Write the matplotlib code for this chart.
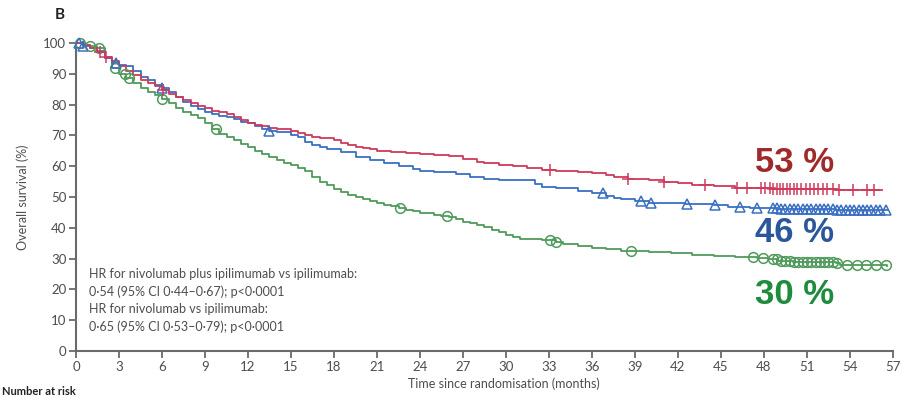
import numpy as np
import matplotlib
matplotlib.use("Agg")
import matplotlib.pyplot as plt

# ---------------- data ----------------
months_ticks = list(range(0, 58, 3))
pct_ticks = list(range(0, 101, 10))

# Nivolumab plus ipilimumab (red)
combo_t = [0, 0.5, 1.0, 1.5, 2.0, 2.5, 3.0, 3.5, 4.0, 4.5, 5.0, 5.5, 6.0, 6.5, 7.0, 7.5,
           8.0, 8.5, 9.0, 9.5, 10.0, 10.5, 11.0, 11.5, 12.0, 12.5, 13.0, 13.5, 14.0, 15.0,
           15.5, 16.0, 16.5, 17.0, 18.0, 18.5, 19.0, 19.5, 20.0, 20.5, 21.0, 22.0, 23.0,
           24.0, 25.0, 26.0, 27.0, 28.0, 28.5, 29.5, 30.5, 31.5, 32.5, 33.5, 35.0, 36.0,
           37.0, 37.5, 38.5, 40.0, 41.0, 42.0, 43.0, 44.5, 46.0, 47.0, 48.5, 53.0, 56.2]
combo_s = [100, 99.5, 98.5, 97, 95.5, 94, 92.5, 91, 89.5, 88, 87, 86, 84.8, 83.5, 82.5, 81.5,
           80.5, 79.5, 79, 78, 77.5, 77, 76, 75, 74, 73.5, 73, 72.5, 72, 71.5,
           70.8, 70, 69.5, 69, 68.5, 67.5, 67, 66.3, 66, 65.5, 65, 64.6, 64.2,
           63.8, 63.5, 63.2, 62.5, 61.5, 61, 60.5, 60, 59.5, 58.8, 58.4, 58, 57.8,
           57, 56.5, 55.8, 55.5, 55, 54.5, 53.8, 53.6, 53, 52.8, 52.5, 52.3, 52.3]
combo_cens = [1.7, 2.1, 6.1, 33.1, 38.5, 41.0, 43.9, 46.1, 46.8, 47.8, 48.1, 48.4, 48.6,
              48.9, 49.1, 49.3, 49.6, 49.8, 50.1, 50.3, 50.6, 50.9, 51.2, 51.5, 51.8,
              52.1, 52.4, 52.8, 53.2, 54.2, 55.2, 55.7]

# Nivolumab (blue)
nivo_t = [0, 0.5, 1.0, 1.5, 2.0, 2.5, 3.0, 3.5, 4.0, 4.5, 5.0, 5.5, 6.0, 6.5, 7.0, 7.5,
          8.0, 8.5, 9.0, 9.5, 10.0, 10.5, 11.0, 11.5, 12.0, 12.5, 13.0, 13.5, 14.0, 15.0,
          15.5, 16.0, 16.5, 17.0, 17.5, 18.5, 19.5, 20.5, 21.5, 22.5, 23.5, 24.0, 25.0,
          26.5, 27.5, 28.5, 29.5, 31.5, 32.0, 32.5, 33.5, 35.0, 36.0, 37.0, 37.5, 38.0,
          39.0, 40.0, 42.5, 44.5, 45.5, 47.0, 49.0, 53.0, 56.6]
nivo_s = [100, 99, 98.5, 97.5, 95, 93.5, 93, 92.5, 91, 89, 88, 86.5, 85.5, 84, 82.5, 81,
          79.5, 78.5, 77.5, 76.8, 76.3, 76, 75.2, 74.5, 74, 73, 72, 71.5, 71, 70,
          69.5, 68, 67, 66.2, 65.5, 64.5, 63, 62, 61, 60, 59, 58.5, 58.2,
          57.5, 56.5, 55.8, 55.5, 55.4, 54.2, 53.2, 52.8, 52, 51.3, 50.3, 49.8, 49.4,
          48.6, 48.1, 47.7, 47.4, 46.8, 46.4, 46.0, 45.8, 45.8]
nivo_cens = [0.2, 0.5, 2.8, 6.0, 13.5, 36.8, 39.4, 40.1, 42.6, 44.6, 46.3, 47.5, 48.6,
             48.9, 49.2, 49.5, 49.8, 50.1, 50.4, 50.7, 51.0, 51.3, 51.6, 51.9, 52.2,
             52.5, 52.8, 53.1, 53.4, 53.7, 54.0, 54.3, 54.6, 54.9, 55.2, 55.5, 55.8,
             56.1, 56.5]

# Ipilimumab (green)
ipi_t = [0, 0.5, 1.0, 1.5, 2.0, 2.5, 3.0, 3.5, 4.0, 4.5, 5.0, 5.5, 6.0, 6.5, 7.0, 7.5,
         8.0, 8.5, 9.0, 9.5, 10.0, 10.5, 11.0, 11.5, 12.0, 12.5, 13.0, 13.5, 14.0, 14.5,
         15.0, 15.5, 16.0, 16.5, 17.0, 17.5, 18.0, 18.5, 19.0, 19.5, 20.0, 20.5, 21.0,
         21.5, 22.0, 22.5, 23.0, 23.5, 24.0, 25.0, 25.5, 26.0, 26.5, 27.0, 27.5, 28.0,
         28.5, 29.0, 29.5, 30.0, 30.5, 31.0, 32.5, 33.5, 34.0, 35.0, 36.0, 37.0, 38.0,
         40.0, 41.5, 43.0, 44.5, 46.0, 47.5, 48.3, 49.0, 50.0, 53.0, 53.3, 56.6]
ipi_s = [100, 99.5, 99, 98.5, 95, 92, 90, 88.5, 87, 85.5, 84, 83, 81.8, 80.5, 79, 77.5,
         76.5, 75.5, 74, 72, 70.5, 69.5, 68.5, 67.2, 66.2, 65, 64, 63, 62, 61,
         60.3, 59.5, 58.3, 56.5, 55, 53.8, 52.5, 51.5, 50.5, 50, 49.5, 48.8, 48.2,
         47.5, 47, 46.3, 45.8, 45.3, 44.8, 44.3, 43.8, 43.4, 42.8, 42, 41.4, 40.9,
         40.2, 39.4, 38.5, 37.7, 37, 36.5, 36.1, 35.5, 34.7, 34, 33.5, 33, 32.5,
         32.1, 31.7, 31.3, 30.8, 30.5, 30.3, 29.8, 29.2, 29.0, 28.7, 27.8, 27.6]
ipi_cens = [0.3, 1.0, 1.6, 2.7, 3.4, 3.7, 6.0, 9.8, 22.6, 25.9, 33.1, 33.5, 38.7, 47.2,
            47.9, 48.6, 48.9, 49.2, 49.5, 49.8, 50.1, 50.4, 50.7, 51.0, 51.3, 51.6,
            51.9, 52.2, 52.5, 52.8, 53.1, 53.8, 54.5, 55.1, 55.8, 56.5]

labels_pct = ["53 %", "46 %", "30 %"]

hr_text = ("HR for nivolumab plus ipilimumab vs ipilimumab:\n"
           "0·54 (95% CI 0·44–0·67); p<0·0001\n"
           "HR for nivolumab vs ipilimumab:\n"
           "0·65 (95% CI 0·53–0·79); p<0·0001")

# ---------------- styling ----------------
RED = "#cf3a5c"
BLUE = "#3a70c2"
GREEN = "#4f9a5c"
GREY = "#4d4d4d"
FONT = ["Lato", "DejaVu Sans"]

plt.rcParams["font.family"] = FONT

fig = plt.figure(figsize=(9.12, 3.98), dpi=100)
ax = fig.add_axes([76 / 912, 1 - 351 / 398, (893 - 76) / 912, (351 - 43) / 398])


def step_lookup(t, s, x):
    idx = np.searchsorted(np.asarray(t), np.asarray(x), side="right") - 1
    return np.asarray(s)[np.clip(idx, 0, len(s) - 1)]


series = [
    (ipi_t, ipi_s, ipi_cens, GREEN, "o", 7.0),
    (nivo_t, nivo_s, nivo_cens, BLUE, "^", 7.5),
    (combo_t, combo_s, combo_cens, RED, "+", 8.5),
]
for t, s, cens, col, mk, ms in series:
    ax.step(t, s, where="post", color=col, lw=1.3, clip_on=False, zorder=3)
    ax.plot(cens, step_lookup(t, s, cens), linestyle="none", marker=mk, ms=ms,
            mfc="none", mec=col, mew=1.1, clip_on=False, zorder=4)

ax.set_xlim(0, 57)
ax.set_ylim(0, 100)
ax.set_xticks(months_ticks)
ax.set_yticks(pct_ticks)
for sp in ("top", "right"):
    ax.spines[sp].set_visible(False)
for sp in ("left", "bottom"):
    ax.spines[sp].set_color("#6a6a6a")
    ax.spines[sp].set_linewidth(1.5)
ax.tick_params(axis="both", colors="#6a6a6a", width=1.3, length=5,
               labelsize=9.5, labelcolor=GREY, pad=2)

fig.text(89 / 912, 1 - 268 / 398, hr_text, fontsize=9, color=GREY, va="top",
         ha="left", linespacing=1.5)

fig.text(504 / 912, 1 - 384 / 398, "Time since randomisation (months)",
         fontsize=9, color=GREY, ha="center", va="center")
fig.text(23 / 912, 1 - 197 / 398, "Overall survival (%)", fontsize=9, color=GREY,
         ha="center", va="center", rotation=90)
fig.text(60 / 912, 1 - 15 / 398, "B", fontsize=11, fontweight="bold",
         color="#222222", ha="center", va="center")
fig.text(2 / 912, 1 - 397 / 398, "Number at risk", fontsize=8, fontweight="bold",
         color="#222222", ha="left", va="bottom")

big_cols = ["#9e2a2b", "#2b579a", "#1e8b3d"]
big_y = [162, 232, 295]
for lab, col, yy in zip(labels_pct, big_cols, big_y):
    fig.text(795 / 912, 1 - yy / 398, lab, fontsize=25, fontweight="bold",
             color=col, ha="center", va="center",
             family=["Liberation Sans", "DejaVu Sans"])

fig.savefig("out.png", dpi=100)
